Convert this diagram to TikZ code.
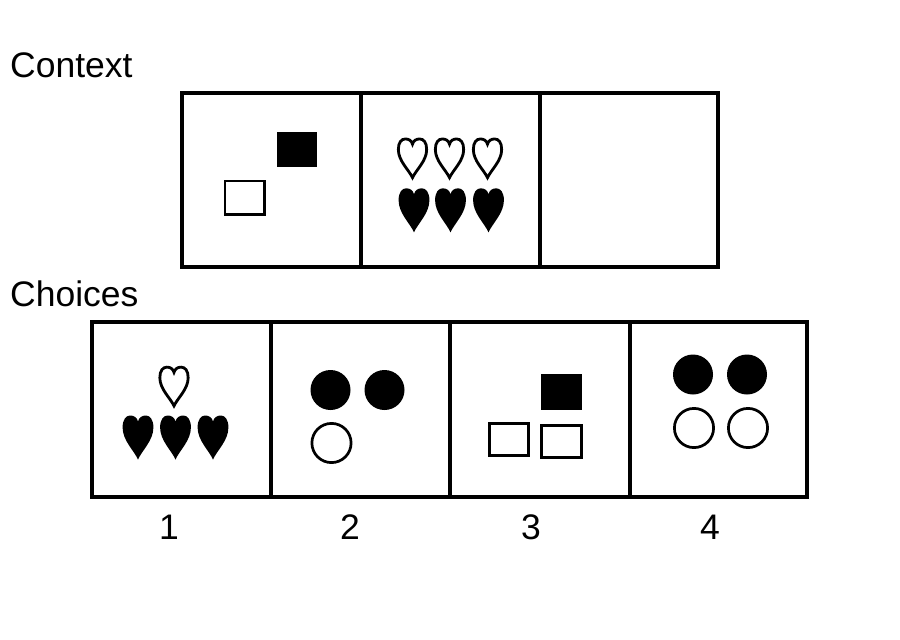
\documentclass[tikz,border=0pt]{standalone}
\usepackage{fontspec}
\setmainfont{Liberation Sans}
\usepackage{tikz}

\tikzset{
  panel/.style={line width=4.5pt, line join=miter},
  caption text/.style={font=\fontsize{35.5}{42}\selectfont, inner sep=0pt},
  heart/.pic={
    \path[pic actions] (0,22) .. controls (-4,13) and (-15.4,3) .. (-15.4,-10)
      .. controls (-15.4,-18) and (-12,-22) .. (-7.8,-22)
      .. controls (-3.8,-22) and (-1,-20) .. (0,-16)
      .. controls (1,-20) and (3.8,-22) .. (7.8,-22)
      .. controls (12,-22) and (15.4,-18) .. (15.4,-10)
      .. controls (15.4,3) and (4,13) .. (0,22) -- cycle;
  },
  full heart/.style={fill=black, draw=none},
  open heart/.style={fill=white, draw=black, line width=2.8pt, xscale=0.92, yscale=0.88},
  open shape/.style={draw=black, fill=white, line width=2.7pt},
}

\begin{document}
\begin{tikzpicture}[x=1pt, y=-1pt]

\useasboundingbox[fill=white] (0,0) rectangle (900,640);

%corners of the context row
\coordinate (C1) at (182,93);
\coordinate (C2) at (718,267);

%corners of the choices row
\coordinate (D1) at (92,322);
\coordinate (D2) at (807,497);

% row labels
\node[caption text, anchor=base west] (context) at (10,77) {Context};
\node[caption text, anchor=base west] (choices) at (10,306) {Choices};

% context panels
\draw[panel] (C1) rectangle (C2);
\draw[panel] (361,93) -- (361,267);
\draw[panel] (540,93) -- (540,267);

% choice panels
\draw[panel] (D1) rectangle (D2);
\draw[panel] (271,322) -- (271,497);
\draw[panel] (450,322) -- (450,497);
\draw[panel] (630,322) -- (630,497);

% context, first panel: two squares
\fill (277,132) rectangle (317,167);
\draw[open shape] (225,181) rectangle (264.4,214.4);

% context, second panel: six hearts
\pic[open heart] at (412.5,158.3) {heart};
\pic[open heart] at (449.5,158.3) {heart};
\pic[open heart] at (487.5,158.3) {heart};
\pic[full heart] at (414,210.3) {heart};
\pic[full heart] at (450.5,210.3) {heart};
\pic[full heart] at (488.5,210.3) {heart};

% choice 1: four hearts
\pic[open heart] at (174,386.5) {heart};
\pic[full heart] at (138,437.5) {heart};
\pic[full heart] at (175.5,437.5) {heart};
\pic[full heart] at (213,437.5) {heart};

% choice 2: three circles
\fill (330.5,390) circle[radius=20pt];
\fill (384.5,390) circle[radius=20pt];
\draw[open shape] (331.5,443) circle[radius=19.6pt];

% choice 3: three squares
\fill (541,374) rectangle (582,410);
\draw[open shape] (489.3,423.3) rectangle (528.7,455.7);
\draw[open shape] (541.3,425.3) rectangle (581.3,457.7);

% choice 4: four circles
\fill (693,374.5) circle[radius=20pt];
\fill (747,374.5) circle[radius=20pt];
\draw[open shape] (694,428) circle[radius=19.6pt];
\draw[open shape] (748,428) circle[radius=19.6pt];

% choice numbers
\node[caption text, anchor=base] (num1) at (169,539) {1};
\node[caption text, anchor=base] (num2) at (350,539) {2};
\node[caption text, anchor=base] (num3) at (531,539) {3};
\node[caption text, anchor=base] (num4) at (710,539) {4};

\end{tikzpicture}
\end{document}
